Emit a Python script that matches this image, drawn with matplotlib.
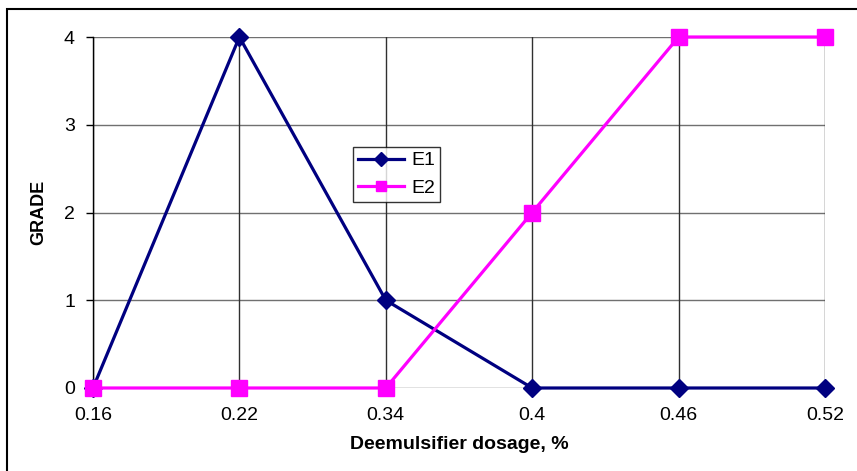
import matplotlib
matplotlib.use("Agg")
import matplotlib.pyplot as plt
from matplotlib.patches import Rectangle

plt.rcParams['font.family'] = ['Liberation Sans', 'DejaVu Sans']

dosage = ["0.16", "0.22", "0.34", "0.4", "0.46", "0.52"]
e1_grade = [0, 4, 1, 0, 0, 0]
e2_grade = [0, 0, 0, 2, 4, 4]
y_ticks = [0, 1, 2, 3, 4]

W, H = 857, 471
fig = plt.figure(figsize=(W / 100, H / 100), dpi=100)

# outer chart border (only left/top visible in the reference)
fig.patches.append(Rectangle((7 / W, -0.05), 1.2, (H - 9) / H + 0.05,
                             transform=fig.transFigure, fill=False,
                             edgecolor='black', lw=1.5, zorder=0))

left, right = 93 / W, 825 / W
bottom, top = (H - 388) / H, (H - 37) / H
ax = fig.add_axes([left, bottom, right - left, top - bottom])

x = list(range(len(dosage)))

# grid
for yv in y_ticks:
    ax.axhline(yv, color='#707070', lw=1.0, zorder=1)
for xv in x:
    ax.axvline(xv, color='#303030', lw=1.0, zorder=1)

ax.plot(x, e1_grade, color='#000080', lw=2.3, marker='D', markersize=9.5,
        label='E1', clip_on=False, zorder=3)
ax.plot(x, e2_grade, color='#FF00FF', lw=2.3, marker='s', markersize=12,
        label='E2', clip_on=False, zorder=4)

ax.set_xlim(0, len(dosage) - 1)
ax.set_ylim(0, 4)
ax.set_xticks(x)
ax.set_xticklabels(dosage)
ax.set_yticks(y_ticks)
ax.set_yticklabels([str(v) for v in y_ticks])

for s in ['top', 'right', 'bottom']:
    ax.spines[s].set_visible(False)
ax.spines['left'].set_color('black')
ax.spines['left'].set_linewidth(1.0)

ax.tick_params(axis='y', direction='out', length=5, width=1, pad=8, labelsize=14)
ax.tick_params(axis='x', length=0, pad=14, labelsize=14)

ax.set_xlabel('Deemulsifier dosage, %', fontsize=14, fontweight='bold', labelpad=8)
ax.set_ylabel('GRADE', fontsize=13, fontweight='bold', labelpad=12)

leg = ax.legend(loc='upper left', bbox_to_anchor=(0.355, 0.687), fontsize=14,
                frameon=True, fancybox=False, edgecolor='black',
                borderpad=0.25, handlelength=2.4, labelspacing=0.5,
                handletextpad=0.35, borderaxespad=0)
leg.get_frame().set_linewidth(1.0)
leg.set_zorder(5)
for h in leg.legend_handles:
    h.set_markersize(7.5)

fig.savefig('out.png', dpi=100)
